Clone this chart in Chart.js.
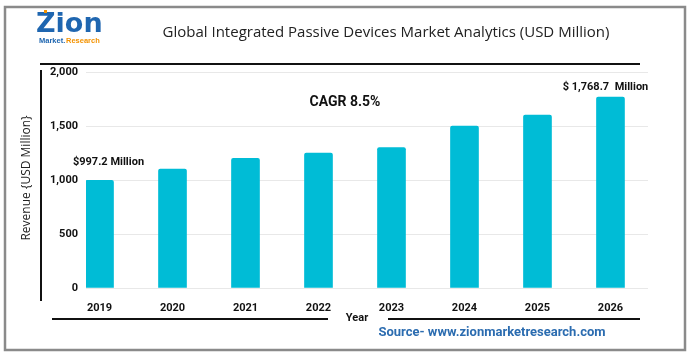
<!DOCTYPE html>
<html><head><meta charset="utf-8">
<script src="https://cdn.jsdelivr.net/npm/chart.js@4/dist/chart.umd.min.js"></script>
<style>html,body{margin:0;padding:0;background:#fff}#wrap{width:691px;height:356px;position:relative}</style>
</head><body><div id="wrap"><canvas id="c" width="691" height="356"></canvas></div>
<script>
const years = [2019, 2020, 2021, 2022, 2023, 2024, 2025, 2026];
const revenue = [997.2, 1100, 1200, 1250, 1300, 1500, 1600, 1768.7];
const yTicks = [0, 500, 1000, 1500, 2000];
const titleText = 'Global Integrated Passive Devices Market Analytics (USD Million)';
const yTitle = 'Revenue {USD Million}';
const xTitle = 'Year';
const firstLabel = '$997.2 Million';
const lastLabel = '$ 1,768.7  Million';
const cagrLabel = 'CAGR 8.5%';
const sourceText = 'Source- www.zionmarketresearch.com';

const deco = {
  id: 'deco',
  beforeDraw(chart) {
    const c = chart.ctx;
    c.save();
    c.fillStyle = '#fff'; c.fillRect(0,0,chart.width,chart.height);
    c.restore();
  },
  afterDraw(chart) {
    const c = chart.ctx;
    const x = chart.scales.x, y = chart.scales.y;
    c.save();
    // frame
    c.strokeStyle = '#8a8a8a'; c.lineWidth = 2.5;
    c.strokeRect(5, 7, 680, 343);
    // logo
    c.textBaseline = 'alphabetic'; c.textAlign = 'left';
    c.font = 'bold 27px "DejaVu Sans"';
    c.fillStyle = '#1f66b0';
    c.fillText('Zion', 36, 32);
    c.fillStyle = '#f39200';
    c.fillRect(44, 10, 3, 3);
    c.font = 'bold 7.5px "Liberation Sans"';
    c.fillStyle = '#1f66b0';
    c.fillText('Market.', 39, 43);
    c.fillStyle = '#f39200';
    c.fillText('Research', 66, 43);
    // title
    c.fillStyle = '#222'; c.textAlign = 'center';
    c.font = '15px "Open Sans"';
    c.fillText(titleText, 386, 37);
    // title underline
    c.strokeStyle = '#111'; c.lineWidth = 2;
    c.beginPath(); c.moveTo(40, 64); c.lineTo(640, 64); c.stroke();
    // left vertical axis line
    c.beginPath(); c.moveTo(41, 70); c.lineTo(41, 301); c.stroke();
    // bottom lines
    c.beginPath(); c.moveTo(52, 319); c.lineTo(328, 319); c.stroke();
    c.beginPath(); c.moveTo(388, 319); c.lineTo(640, 319); c.stroke();
    // x title
    c.font = 'bold 11px Roboto'; c.fillStyle = '#111';
    c.textBaseline = 'middle';
    c.fillText(xTitle, 357, 318);
    // source
    c.font = 'bold 13px Roboto'; c.fillStyle = '#2b6cb0';
    c.fillText(sourceText, 492, 333);
    // y title
    c.save();
    c.translate(27, 178); c.rotate(-Math.PI/2);
    c.font = '12px "Open Sans"'; c.fillStyle = '#222';
    c.fillText(yTitle, 0, 0);
    c.restore();
    // annotations
    c.font = 'bold 11px Roboto'; c.fillStyle = '#111';
    c.fillText(firstLabel, x.getPixelForValue(years[0]) + 9, y.getPixelForValue(revenue[0]) - 18);
    c.fillText(lastLabel, x.getPixelForValue(years[7]) - 5, y.getPixelForValue(revenue[7]) - 10);
    c.font = 'bold 14px Roboto';
    c.fillText(cagrLabel, 345, 102);
    c.restore();
  }
};

new Chart(document.getElementById('c'), {
  type: 'bar',
  data: {
    datasets: [{
      data: years.map((v, i) => ({x: v, y: revenue[i]})),
      backgroundColor: '#00bcd6',
      borderRadius: { topLeft: 2, topRight: 2 },
      borderSkipped: 'bottom',
      barThickness: 28
    }]
  },
  options: {
    responsive: false,
    animation: false,
    layout: { padding: { left: 40, right: 43, top: 72, bottom: 38 } },
    plugins: { legend: { display: false }, tooltip: { enabled: false } },
    scales: {
      x: {
        type: 'linear',
        offset: false,
        min: 2018.815, max: 2026.514,
        grid: { display: false },
        border: { display: false },
        afterFit(s) { s.height = 30; },
        afterBuildTicks(s) { s.ticks = years.map(v => ({value: v})); },
        ticks: {
          padding: 6,
          color: '#111',
          font: { family: 'Roboto', weight: 'bold', size: 11 },
          callback: v => String(v),
          autoSkip: false, maxRotation: 0
        }
      },
      y: {
        min: 0, max: 2000,
        afterFit(s) { s.width = 46; },
        afterBuildTicks(s) { s.ticks = yTicks.map(v => ({value: v})); },
        grid: { color: '#e8e8e8', lineWidth: 1, drawTicks: false },
        border: { display: false },
        ticks: {
          padding: 8,
          color: '#111',
          font: { family: 'Roboto', weight: 'bold', size: 11 },
          callback: v => v.toLocaleString('en-US')
        }
      }
    }
  },
  plugins: [deco]
});
</script>
</body></html>
